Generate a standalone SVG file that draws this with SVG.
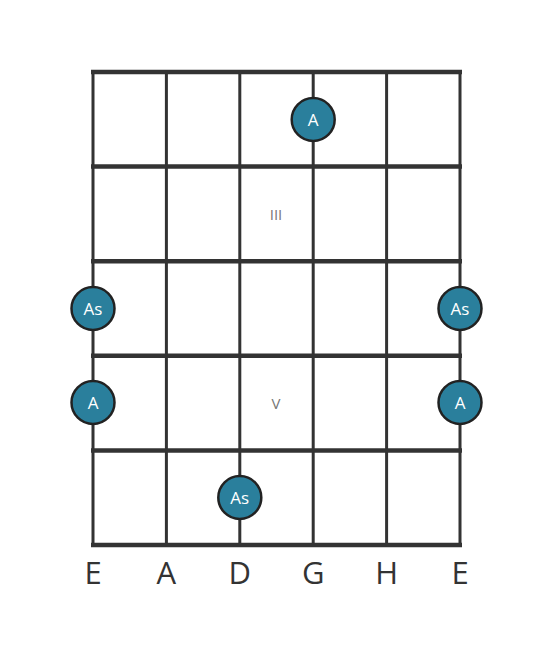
<svg xmlns="http://www.w3.org/2000/svg" width="553" height="656" viewBox="0 0 553 656">
<style>
.fret{stroke:#333;stroke-width:4.5;fill:none}
.str{stroke:#333;stroke-width:3;fill:none}
.dot circle{fill:#2a7f9c;stroke:#222;stroke-width:2.5}
.dot text{fill:#fff;font-family:"Open Sans",sans-serif;font-size:17px;text-anchor:middle;dominant-baseline:central}
.num{fill:#777;font-family:"Open Sans",sans-serif;font-size:15px;text-anchor:middle;dominant-baseline:central}
.lbl{fill:#333;font-family:"Open Sans",sans-serif;font-size:31px;text-anchor:middle}
</style>
<rect width="553" height="656" fill="#fff"/>
<g id="grid">
<line class="str" x1="93" y1="72" x2="93" y2="545"/>
<line class="str" x1="166.4" y1="72" x2="166.4" y2="545"/>
<line class="str" x1="239.8" y1="72" x2="239.8" y2="545"/>
<line class="str" x1="313.2" y1="72" x2="313.2" y2="545"/>
<line class="str" x1="386.6" y1="72" x2="386.6" y2="545"/>
<line class="str" x1="460" y1="72" x2="460" y2="545"/>
<line class="fret" x1="91" y1="72" x2="462" y2="72"/>
<line class="fret" x1="91" y1="166.6" x2="462" y2="166.6"/>
<line class="fret" x1="91" y1="261.2" x2="462" y2="261.2"/>
<line class="fret" x1="91" y1="355.8" x2="462" y2="355.8"/>
<line class="fret" x1="91" y1="450.4" x2="462" y2="450.4"/>
<line class="fret" x1="91" y1="545" x2="462" y2="545"/>
</g>
<text class="num" x="276" y="214">III</text>
<text class="num" x="276" y="403">V</text>
<g id="n1" class="dot"><circle cx="313.2" cy="119.5" r="21.5"/><text x="313.2" y="119.5">A</text></g>
<g id="n2" class="dot"><circle cx="93" cy="308.5" r="21.5"/><text x="93" y="308.5">As</text></g>
<g id="n3" class="dot"><circle cx="460" cy="308.5" r="21.5"/><text x="460" y="308.5">As</text></g>
<g id="n4" class="dot"><circle cx="93" cy="402.5" r="21.5"/><text x="93" y="402.5">A</text></g>
<g id="n5" class="dot"><circle cx="460" cy="402.5" r="21.5"/><text x="460" y="402.5">A</text></g>
<g id="n6" class="dot"><circle cx="239.8" cy="497.5" r="21.5"/><text x="239.8" y="497.5">As</text></g>
<g id="labels">
<text class="lbl" x="93" y="584">E</text>
<text class="lbl" x="166.4" y="584">A</text>
<text class="lbl" x="239.8" y="584">D</text>
<text class="lbl" x="313.2" y="584">G</text>
<text class="lbl" x="386.6" y="584">H</text>
<text class="lbl" x="460" y="584">E</text>
</g>
</svg>
